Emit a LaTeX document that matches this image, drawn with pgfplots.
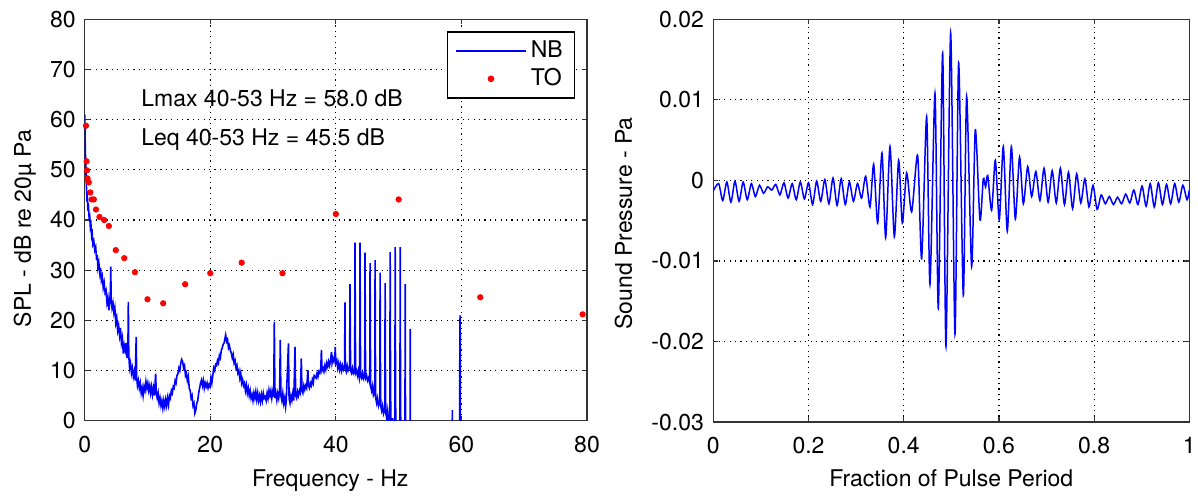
\documentclass[border=0pt]{standalone}
\usepackage{pgfplots}
\pgfplotsset{compat=1.18}
\usepackage{fontspec}
\setmainfont{TeX Gyre Heros}

\pgfplotsset{
  nblegend/.style={legend image code/.code={\draw[##1] (0pt,0pt) -- (35pt,0pt);}},
  tolegend/.style={legend image code/.code={\draw[mark repeat=2,mark phase=2,##1] plot coordinates {(0pt,0pt) (17.5pt,0pt) (35pt,0pt)};}},
}

\pgfplotstableread{
f db
0 61
0.05 58
0.1 54
0.15 51.5
0.2 49.5
0.25 47.5
0.3 46
0.35 44.5
0.42 44.8
0.5 42.5
0.6 42.8
0.7 40.5
0.8 40.8
0.9 38.5
1.0 39
1.1 36.8
1.2 37.3
1.3 35.2
1.45 35.8
1.6 34
1.75 34.6
1.9 32
2.0 33
2.1 30.5
2.25 31.5
2.4 29.5
2.5 30.5
2.65 28
2.8 28.8
2.95 26.5
3.1 27.5
3.25 25.5
3.4 26
3.55 23.5
3.7 24.5
3.85 22
4.0 24
4.1 26
4.15 30.7
4.22 24
4.35 22.5
4.5 23.5
4.65 21.5
4.8 22.5
4.95 19.5
5.1 20.5
5.25 18
5.4 19
5.55 17
5.7 18.5
5.85 15.5
6.0 16.5
6.15 13.4
6.3 15
6.45 14
6.6 15.5
6.75 12.5
6.88 14
6.95 23.7
7.02 13
7.15 10.5
7.3 11.5
7.45 9.5
7.6 10.5
7.75 8.8
7.9 9.8
8.05 8
8.2 16.7
8.28 8.5
8.4 7
8.55 8
8.7 6.5
8.85 7.5
9.0 5.5
9.15 6.5
9.3 5
9.45 6.8
9.6 6
9.75 7.8
9.9 6.5
10.05 7.5
10.2 6
10.35 7
10.5 5.5
10.65 6.8
10.8 5.2
10.95 6.5
11.1 5
11.3 9.4
11.4 5.5
11.55 4.5
11.7 5.5
11.85 3.5
12.0 4.5
12.15 3
12.3 4
12.45 2.5
12.6 4
12.75 2.8
12.9 4.2
13.05 3
13.2 4.5
13.35 3.2
13.5 5
13.65 4.5
13.8 6
13.95 5.5
14.1 6.8
14.25 6.5
14.4 8
14.55 7.5
14.7 9
14.85 9.4
15.0 10.5
15.15 10
15.3 11.5
15.45 12.2
15.6 11.8
15.75 10.5
15.9 11
16.05 9
16.2 9.5
16.35 8
16.5 8.8
16.65 6.5
16.8 6
16.95 4.5
17.1 5
17.25 3
17.4 3.5
17.55 1.5
17.7 2.1
17.85 3.5
18.0 4
18.15 5.5
18.3 6.5
18.45 7.5
18.6 8.1
18.75 7
18.9 8
19.05 6.5
19.2 7.5
19.35 6.8
19.5 7.5
19.65 6.5
19.8 7.2
19.95 6.8
20.1 8.5
20.25 7.5
20.4 9
20.55 10.5
20.7 10
20.85 11.2
21.0 11
21.15 12
21.3 11.5
21.45 13
21.6 12.5
21.75 14
21.9 14.5
22.05 15.2
22.2 15.5
22.35 16.5
22.45 17.1
22.6 15.8
22.75 16.2
22.9 14.5
23.05 15
23.2 14
23.35 13.5
23.5 12.5
23.65 13.2
23.8 11.5
23.95 12
24.1 10.5
24.25 11
24.4 9.5
24.55 10
24.7 8.5
24.85 9.5
25.0 7.5
25.15 8.2
25.3 7
25.45 7.5
25.6 6
25.75 7.1
25.9 5.5
26.05 6.5
26.2 5
26.35 6
26.5 4.5
26.65 5.2
26.8 4
26.95 5.5
27.1 4.5
27.25 5.8
27.4 4.2
27.55 5.5
27.7 4
27.85 5
28.0 3.8
28.15 5.2
28.3 4
28.45 5.5
28.6 4.5
28.75 4.8
28.9 4
29.05 5.5
29.2 4.5
29.35 6.1
29.5 5
29.65 6
29.8 4.5
29.95 5.8
30.1 4.8
30.2 19.7
30.3 4.5
30.45 5.5
30.6 4.1
30.75 5.5
30.9 4.5
31.05 6
31.15 16.1
31.25 5
31.4 4
31.55 5.5
31.7 3.5
31.85 4.5
32.0 2.8
32.1 4
32.45 15.4
32.55 4.5
32.7 3.5
32.85 5
33.0 4.1
33.15 5.5
33.3 4
33.5 14.7
33.6 5
33.75 4.5
33.9 5.8
34.05 5
34.2 6
34.35 5.5
34.5 12.4
34.6 6
34.75 5.5
34.9 7
35.05 6.2
35.2 7
35.35 6.5
35.55 10.1
35.65 7
35.8 6.5
35.95 7.5
36.1 7
36.25 8.2
36.4 7.5
36.55 9
36.7 8.8
36.85 8.5
37.0 9.5
37.15 8.8
37.3 9.8
37.45 9.5
37.6 10.5
37.7 14.1
37.8 10
37.95 10.5
38.1 9.8
38.25 11
38.4 10.2
38.55 11.5
38.7 10.8
38.85 11.8
39.0 11
39.15 12
39.3 13.7
39.4 11.5
39.55 12.5
39.7 11.8
39.85 12.8
39.9 14.7
40.0 11.5
40.15 12
40.3 10.5
40.45 11.5
40.6 10.2
40.75 11.2
40.9 10
41.05 11
41.2 10.2
41.4 11
41.45 23.6
41.5 10.5
41.65 9.8
41.8 11
41.95 10
42.1 10.5
42.2 11
42.25 27.2
42.3 18
42.35 10
42.5 9.5
42.65 10.5
42.8 9.5
42.95 10
43.0 9.8
43.05 35.5
43.1 20
43.15 9.5
43.3 10
43.45 9
43.6 10
43.75 8.5
43.8 9
43.85 35.5
43.9 18
43.95 9
44.1 8.5
44.25 9.5
44.4 8.5
44.55 9.2
44.6 9
44.65 33.5
44.7 16
44.75 8.5
44.9 9
45.05 8
45.2 8.5
45.4 7.5
45.45 31.4
45.5 16
45.55 7
45.7 6
45.85 7
46.0 5
46.2 5.5
46.25 32
46.3 14
46.35 4.5
46.5 3.5
46.65 4.5
46.8 3
47.0 4
47.05 29.5
47.1 12
47.15 3
47.3 2
47.45 3
47.6 1.5
47.8 2.5
47.85 27.4
47.9 10
47.95 1.5
48.1 0.5
48.25 2
48.4 0
48.6 1
48.65 33.6
48.7 12
48.75 0.5
48.9 -1
49.05 0.5
49.2 -3
49.4 -1
49.45 34.6
49.5 10
49.55 -2
49.7 -5
49.85 -1
50.0 -8
50.2 -3
50.25 34.6
50.3 8
50.35 -5
50.5 -10
50.7 -4
50.9 -12
51.0 -5
51.05 27.2
51.1 -5
51.3 -15
51.6 -20
51.8 -10
51.85 18.3
51.9 -20
58.5 -20
58.55 2.1
58.6 -20
59.7 -20
59.75 19.5
59.8 21
59.85 -20
80 -20
}\nbdata

\pgfplotstableread{
f db
0.2 58.8
0.3 51.7
0.36 49.9
0.45 48.3
0.65 47.5
0.9 45.5
1.12 44.1
1.45 44.1
1.8 42.1
2.35 40.6
3.1 40.0
3.85 38.8
4.95 34.0
6.3 32.4
8 29.6
10 24.2
12.5 23.4
16 27.2
20 29.4
25 31.5
31.5 29.4
40 41.2
50 44.1
63 24.6
79.3 21.2
}\todata

\pgfplotstableread{
t p
0.0 -0.0013
0.0112 -0.0004
0.0198 -0.0025
0.0284 -0.0002
0.0370 -0.0027
0.0455 -0.0001
0.0541 -0.0026
0.0627 -0.0002
0.0713 -0.0024
0.0799 -0.0004
0.0884 -0.0020
0.0970 -0.0006
0.1056 -0.0016
0.1142 -0.0008
0.1228 -0.0012
0.1313 -0.0005
0.1399 -0.0018
0.1485 -0.0003
0.1571 -0.0022
0.1657 -0.0004
0.1742 -0.0024
0.1828 -0.0002
0.1914 -0.0023
0.2000 -0.0003
0.2086 -0.0030
0.2171 -0.0001
0.2257 -0.0026
0.2343 0.0001
0.2429 -0.0029
0.2515 0.0003
0.2600 -0.0031
0.2686 0.0002
0.2772 -0.0030
0.2858 -0.0002
0.2944 -0.0026
0.3029 -0.0004
0.3115 -0.0022
0.3201 0.0005
0.3292 -0.0033
0.3369 0.0020
0.3453 -0.0053
0.3544 0.0034
0.3621 -0.0071
0.3712 0.0042
0.3803 -0.0070
0.3894 0.0025
0.3971 -0.0053
0.4062 0.0009
0.4167 -0.0039
0.4293 0.0031
0.4377 -0.0097
0.4482 0.0079
0.4552 -0.0129
0.4657 0.0108
0.4727 -0.0159
0.4818 0.0158
0.4888 -0.0206
0.4986 0.0183
0.5077 -0.0191
0.5154 0.0146
0.5252 -0.0143
0.5322 0.0104
0.5427 -0.0107
0.5504 0.0063
0.5602 -0.0049
0.5672 0.0002
0.5720 -0.0008
0.5765 0.0006
0.5847 -0.0037
0.5925 0.0025
0.6008 -0.0049
0.6092 0.0042
0.6176 -0.0063
0.6261 0.0042
0.6345 -0.0048
0.6433 0.0029
0.6513 -0.0029
0.6604 0.0017
0.6688 -0.0020
0.6776 0.0011
0.6862 -0.0025
0.6948 0.0015
0.7034 -0.0027
0.7119 0.0012
0.7205 -0.0028
0.7291 0.0015
0.7377 -0.0030
0.7462 0.0010
0.7548 -0.0035
0.7634 0.0008
0.7720 -0.0028
0.7806 0.0002
0.7892 -0.0033
0.7977 -0.0006
0.8063 -0.0036
0.8149 -0.0018
0.8235 -0.0029
0.8320 -0.0020
0.8406 -0.0030
0.8492 -0.0021
0.8578 -0.0029
0.8664 -0.0017
0.8750 -0.0028
0.8835 -0.0012
0.8921 -0.0030
0.9007 -0.0007
0.9093 -0.0032
0.9178 -0.0004
0.9264 -0.0033
0.9350 -0.0003
0.9436 -0.0030
0.9522 -0.0005
0.9608 -0.0029
0.9693 -0.0004
0.9779 -0.0027
0.9865 -0.0006
0.9951 -0.0024
1.0 -0.0012
}\wavedata

\begin{document}
\begin{tikzpicture}[font=\fontsize{11.5}{13.8}\selectfont]
\path[use as bounding box] (0,0) rectangle (599pt,-247.5pt);
\pgfplotsset{
  every axis/.append style={
    scale only axis,
    /pgf/number format/assume math mode=true,
    axis line style={black!80, line width=0.6pt},
    tick style={black!80, line width=0.6pt},
    major tick length=2.5pt,
    tick align=inside,
    grid=major,
    grid style={black, line width=0.6pt, dash pattern=on 0.6pt off 2.1pt},
    xticklabel style={yshift=-4.3pt},
    yticklabel style={xshift=-1pt},
    scaled ticks=false,
  },
}
\begin{axis}[
  at={(42.35pt,-210.35pt)}, anchor=south west,
  width=251.15pt, height=200.7pt,
  xmin=0, xmax=80, ymin=0, ymax=80,
  xtick={0,20,40,60,80}, xticklabels={0,20,40,60,80},
  ytick={0,10,20,30,40,50,60,70,80}, yticklabels={0,10,20,30,40,50,60,70,80},
  xlabel={Frequency - Hz},
  ylabel={SPL - dB re 20µ Pa},
  xlabel style={at={(axis description cs:0.489,-0.1627)}, anchor=base},
  ylabel style={at={(axis description cs:-0.107,0.479)}, anchor=base},
  legend style={at={(0.9767,0.970)}, anchor=north east, draw=black, line width=0.6pt, fill=white,
    inner xsep=4pt, inner ysep=2.5pt, nodes={inner sep=2pt}},
  legend cell align=left,
]
\addplot[blue, line width=0.8pt, nblegend] table[x=f,y=db] {\nbdata};
\addlegendentry{NB}
\addplot[only marks, mark=*, mark size=1.35pt, red, draw=red, fill=red, tolegend] table[x=f,y=db] {\todata};
\addlegendentry{TO}
\node[anchor=base west, inner sep=0pt] at (axis cs:8.96,62.57) {Lmax 40-53 Hz = 58.0 dB};
\node[anchor=base west, inner sep=0pt] at (axis cs:8.96,54.94) {Leq 40-53 Hz = 45.5 dB};
\end{axis}

\begin{axis}[
  at={(356.65pt,-211pt)}, anchor=south west,
  width=238pt, height=201.35pt,
  xmin=0, xmax=1, ymin=-0.03, ymax=0.02,
  xtick={0,0.2,0.4,0.6,0.8,1}, xticklabels={0,0.2,0.4,0.6,0.8,1},
  ytick={-0.03,-0.02,-0.01,0,0.01,0.02}, yticklabels={-0.03,-0.02,-0.01,0,0.01,0.02},
  yticklabel style={xshift=-0.2pt},
  xlabel={Fraction of Pulse Period},
  ylabel={Sound Pressure - Pa},
  xlabel style={at={(axis description cs:0.5,-0.159)}, anchor=base},
  ylabel style={at={(axis description cs:-0.171,0.493)}, anchor=base},
]
\addplot[blue, line width=0.75pt, smooth, tension=0.45] table[x=t,y=p] {\wavedata};
\end{axis}
\end{tikzpicture}
\end{document}
